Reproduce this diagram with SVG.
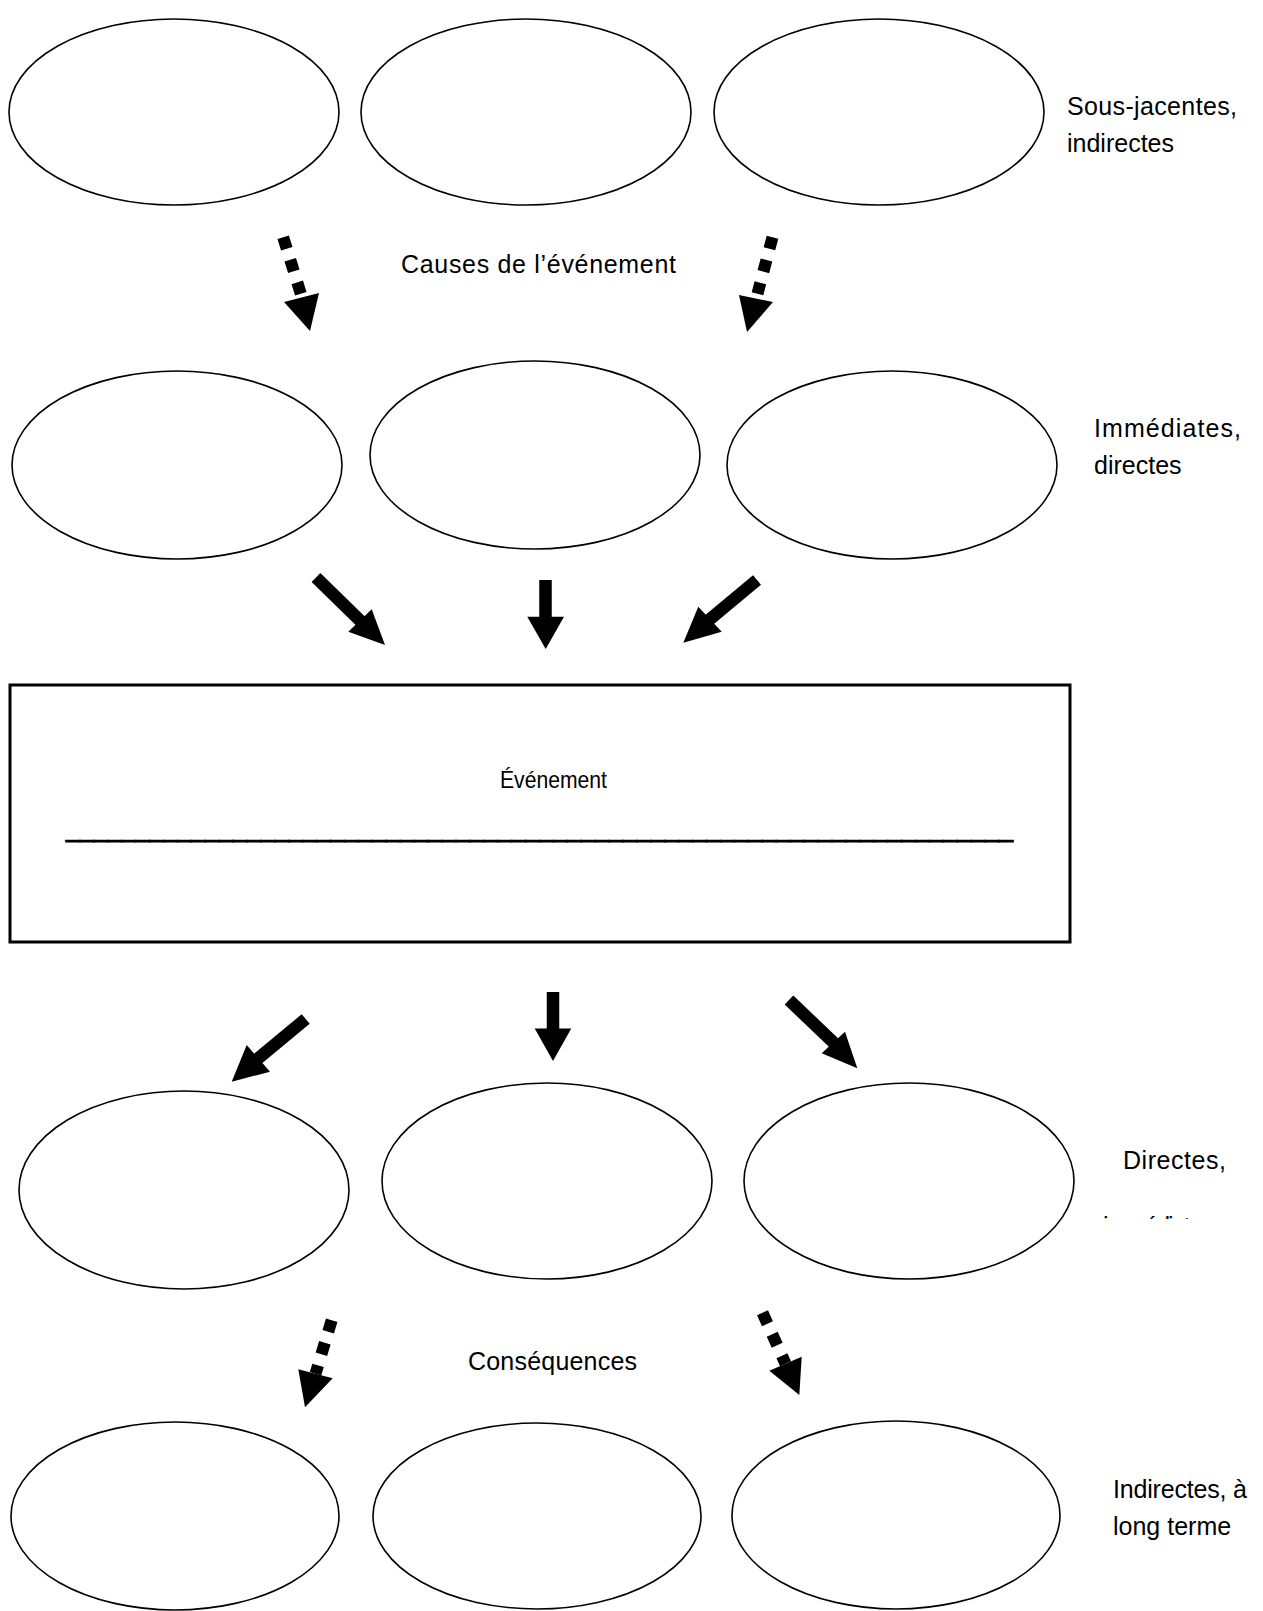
<svg xmlns="http://www.w3.org/2000/svg" width="1263" height="1611" viewBox="0 0 1263 1611">
<style>
.node ellipse{fill:#fff;stroke:#000;stroke-width:1.6}
.box{fill:#fff;stroke:#000;stroke-width:3}
.lbl{font-family:"Liberation Sans",Arial,sans-serif;font-size:25px;fill:#000}
.shaft{stroke:#000;stroke-width:12.5;fill:none}
.dash{stroke:#000;stroke-width:12;fill:none;stroke-dasharray:12 11.6}
.head{fill:#000}
</style>
<defs>
<clipPath id="clipImm"><rect x="1090" y="1150" width="160" height="69"/></clipPath>
</defs>
<rect width="1263" height="1611" fill="#fff"/>

<g id="row1">
<g id="n1a" class="node"><ellipse cx="174" cy="112" rx="165" ry="93"/></g>
<g id="n1b" class="node"><ellipse cx="526" cy="112" rx="165" ry="93"/></g>
<g id="n1c" class="node"><ellipse cx="879" cy="112" rx="165" ry="93"/></g>
</g>
<g id="lbl-sous">
<text class="lbl" x="1067" y="115" textLength="170">Sous-jacentes,</text>
<text class="lbl" x="1067" y="152">indirectes</text>
</g>
<g id="lbl-causes"><text class="lbl" x="401" y="273" textLength="275">Causes de l’événement</text></g>

<g id="row2">
<g id="n2a" class="node"><ellipse cx="177" cy="465" rx="165" ry="94"/></g>
<g id="n2b" class="node"><ellipse cx="535" cy="455" rx="165" ry="94"/></g>
<g id="n2c" class="node"><ellipse cx="892" cy="465" rx="165" ry="94"/></g>
</g>
<g id="lbl-imm">
<text class="lbl" x="1094" y="437" textLength="147">Immédiates,</text>
<text class="lbl" x="1094" y="474">directes</text>
</g>

<g id="event">
<rect class="box" x="10" y="685" width="1060" height="257"/>
<text class="lbl" x="500" y="788" style="font-size:24px" textLength="107" lengthAdjust="spacingAndGlyphs">Événement</text>
<text class="lbl" x="66" y="836.5" style="stroke:#000;stroke-width:1.1" textLength="947" lengthAdjust="spacingAndGlyphs">____________________________________________________________________</text>
</g>

<g id="row3">
<g id="n3a" class="node"><ellipse cx="184" cy="1190" rx="165" ry="99"/></g>
<g id="n3b" class="node"><ellipse cx="547" cy="1181" rx="165" ry="98"/></g>
<g id="n3c" class="node"><ellipse cx="909" cy="1181" rx="165" ry="98"/></g>
</g>
<g id="lbl-directes">
<text class="lbl" x="1123" y="1169" textLength="103">Directes,</text>
<text class="lbl" x="1103" y="1235" textLength="110" clip-path="url(#clipImm)">immédiates</text>
</g>
<g id="lbl-cons"><text class="lbl" x="468" y="1370" textLength="169">Conséquences</text></g>

<g id="row4">
<g id="n4a" class="node"><ellipse cx="175" cy="1516" rx="164" ry="94"/></g>
<g id="n4b" class="node"><ellipse cx="537" cy="1516" rx="164" ry="93"/></g>
<g id="n4c" class="node"><ellipse cx="896" cy="1515" rx="164" ry="94"/></g>
</g>
<g id="lbl-ind">
<text class="lbl" x="1113" y="1498" textLength="134">Indirectes, à</text>
<text class="lbl" x="1113" y="1535">long terme</text>
</g>

<g id="connectors">
<line class="dash" x1="283.2" y1="237.3" x2="300.8" y2="293.7"/>
<polygon class="head" points="284,302 319,293 310,331"/>
<line class="dash" x1="772.5" y1="237.2" x2="757.5" y2="293.8"/>
<polygon class="head" points="739,295 773,302 747,332"/>

<line class="shaft" x1="316" y1="577.5" x2="361" y2="621.5"/>
<polygon class="head" points="348.3,631.7 371.7,609.3 385,645"/>
<line class="shaft" x1="545.5" y1="580" x2="545.5" y2="618"/>
<polygon class="head" points="527.3,616.7 564,616.7 545.7,649"/>
<line class="shaft" x1="757" y1="580" x2="709" y2="620"/>
<polygon class="head" points="683.3,642.7 698.3,606.7 721.7,631.7"/>

<line class="shaft" x1="305.7" y1="1019" x2="257.5" y2="1059"/>
<polygon class="head" points="231.7,1081.7 246.7,1045 270,1071.7"/>
<line class="shaft" x1="553" y1="992" x2="553" y2="1030"/>
<polygon class="head" points="534.7,1028.5 571.3,1028.5 553,1061"/>
<line class="shaft" x1="789" y1="1000" x2="834.5" y2="1043.5"/>
<polygon class="head" points="821.7,1053.3 845,1031.7 857.3,1068.3"/>

<line class="dash" x1="331.7" y1="1320.2" x2="315.5" y2="1373.8"/>
<polygon class="head" points="298.3,1369.3 332.7,1378.3 305,1407.3"/>
<line class="dash" x1="762.5" y1="1312.8" x2="785.5" y2="1363.7"/>
<polygon class="head" points="769.3,1370.7 801.7,1356.7 799.3,1395"/>
</g>
</svg>
